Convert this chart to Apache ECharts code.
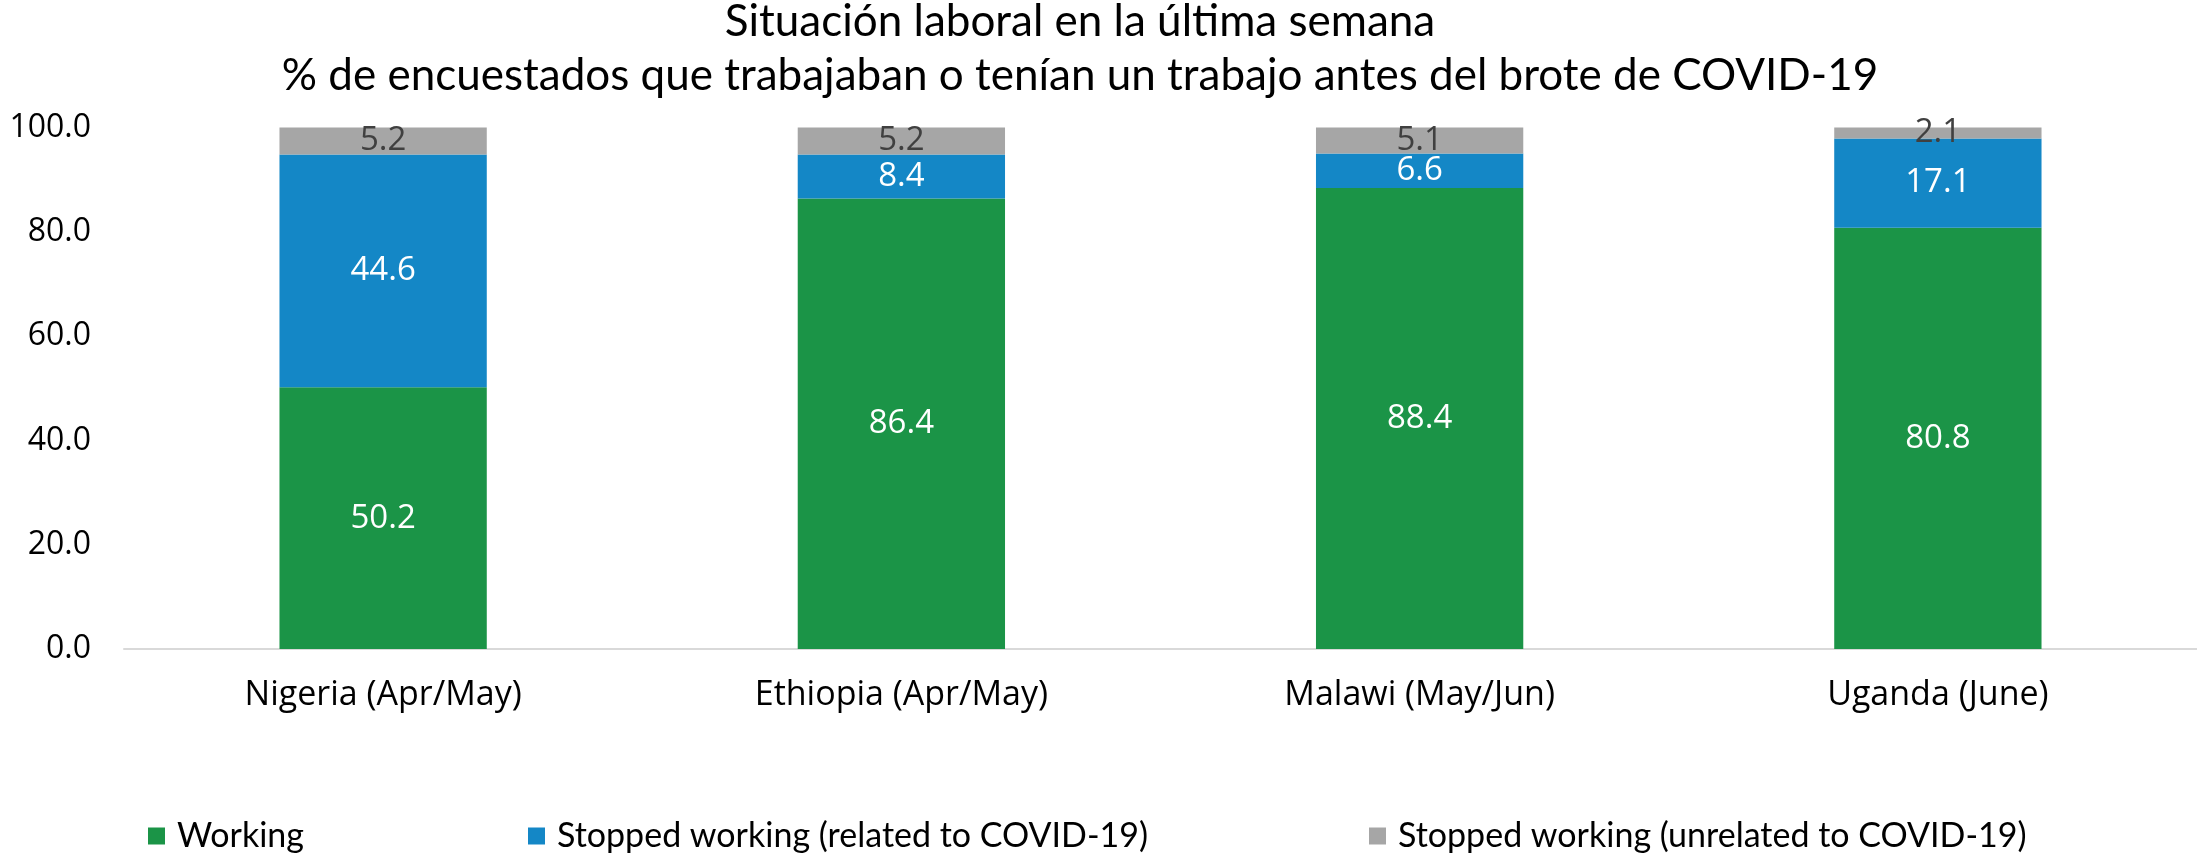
<!DOCTYPE html>
<html>
<head>
<meta charset="utf-8">
<script src="https://cdn.jsdelivr.net/npm/echarts@6/dist/echarts.min.js"></script>
<style>
html,body{margin:0;padding:0;background:#fff;}
#main{width:2197px;height:857px;}
</style>
</head>
<body>
<div id="main"></div>
<script>
const categories = ['Nigeria (Apr/May)', 'Ethiopia (Apr/May)', 'Malawi (May/Jun)', 'Uganda (June)'];
const seriesNames = ['Working', 'Stopped working (related to COVID-19)', 'Stopped working (unrelated to COVID-19)'];
const working = [50.2, 86.4, 88.4, 80.8];
const stoppedRelated = [44.6, 8.4, 6.6, 17.1];
const stoppedUnrelated = [5.2, 5.2, 5.1, 2.1];
const yTicks = ['0.0', '20.0', '40.0', '60.0', '80.0', '100.0'];
const titleLines = ['Situación laboral en la última semana', '% de encuestados que trabajaban o tenían un trabajo antes del brote de COVID-19'];

const colors = ['#1B9447', '#1487C6', '#A6A6A6'];
const labelColors = ['#FFFFFF', '#FFFFFF', '#404040'];
const dataSets = [working, stoppedRelated, stoppedUnrelated];

const chart = echarts.init(document.getElementById('main'));
const legendLefts = [143, 523, 1364];

const option = {
  animation: false,
  title: {
    text: titleLines.join('\n'),
    left: 1080,
    textAlign: 'center',
    top: -5,
    padding: 0,
    textStyle: {
      fontFamily: 'Lato',
      fontWeight: 'normal',
      fontSize: 44,
      lineHeight: 54,
      color: '#000'
    }
  },
  legend: seriesNames.map((n, i) => ({
    data: [n],
    left: legendLefts[i],
    top: 814,
    icon: 'rect',
    itemWidth: 17,
    itemHeight: 17,
    selectedMode: false,
    textStyle: {
      fontFamily: 'Lato',
      fontSize: 34,
      color: '#000',
      padding: [0, 0, 0, 7]
    }
  })),
  grid: {
    left: 124,
    right: 0,
    top: 127.5,
    bottom: 857 - 649,
    containLabel: false
  },
  xAxis: {
    type: 'category',
    data: categories,
    axisLine: { show: true, lineStyle: { color: '#D9D9D9', width: 2 } },
    axisTick: { show: false },
    axisLabel: {
      fontFamily: 'Open Sans',
      fontSize: 34,
      color: '#000',
      margin: 29
    }
  },
  yAxis: {
    type: 'value',
    min: 0,
    max: 100,
    interval: 20,
    axisLine: { show: false },
    axisTick: { show: false },
    splitLine: { show: false },
    axisLabel: {
      fontFamily: 'Open Sans',
      fontSize: 32,
      color: '#000',
      margin: 33,
      formatter: (v) => yTicks[Math.round(v / 20)]
    }
  },
  series: dataSets.map((d, i) => ({
    name: seriesNames[i],
    type: 'bar',
    stack: 'total',
    data: d,
    barWidth: '40%',
    itemStyle: { color: colors[i] },
    label: {
      show: true,
      position: 'inside',
      fontFamily: 'Open Sans',
      fontSize: 33,
      color: labelColors[i],
      formatter: (p) => p.value.toFixed(1)
    }
  }))
};
chart.setOption(option);
</script>
</body>
</html>
